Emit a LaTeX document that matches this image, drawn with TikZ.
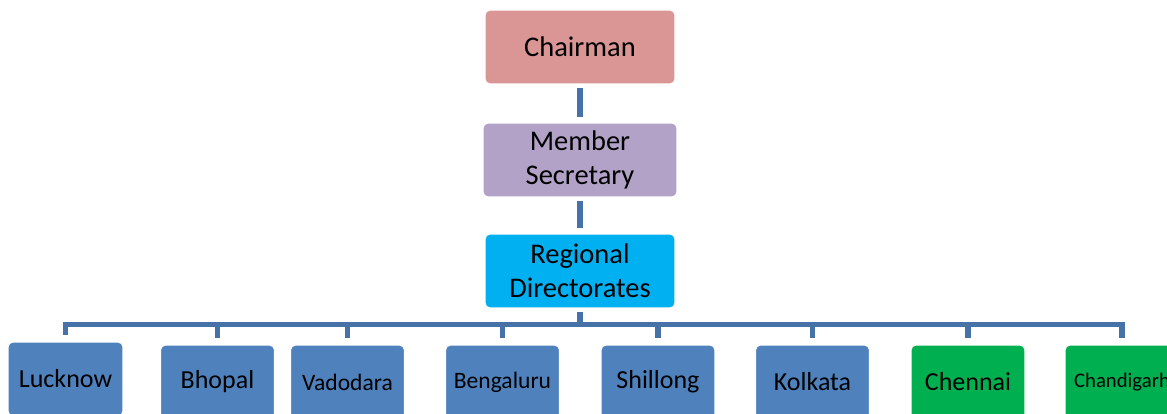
\documentclass[tikz,border=0pt]{standalone}
\usepackage{fontspec}
\setmainfont{Carlito}

\definecolor{chairred}{HTML}{D99694}
\definecolor{secviolet}{HTML}{B3A2C7}
\definecolor{dircyan}{HTML}{00B0F0}
\definecolor{cityblue}{HTML}{4F81BD}
\definecolor{citygreen}{HTML}{00B050}
\definecolor{linkblue}{HTML}{4672A8}

\tikzset{
  box/.style={draw=white, line width=0.6pt, rounded corners=0.1cm, align=center, text=black, inner sep=0pt},
  headbox/.style={box, minimum width=3.8cm, minimum height=1.48cm, font=\fontsize{16.2}{19.5}\selectfont},
  citybox/.style={box, fill=cityblue, minimum width=2.28cm, minimum height=1.48cm, font=\fontsize{14.8}{17}\selectfont},
  smalltext/.style={font=\fontsize{13.4}{16}\selectfont},
  link/.style={draw=linkblue, line width=3pt},
}

\begin{document}
\begin{tikzpicture}[x=0.02cm, y=-0.02cm]
    \useasboundingbox (0,0) rectangle (1167,413);
    \clip (0,0) rectangle (1167,413);

    % Head office
    \node[headbox, fill=chairred] (chair) at (580,47) {Chairman};
    \node[headbox, fill=secviolet, minimum width=3.88cm] (secy) at (580,160) {Member\\Secretary};
    \node[headbox, fill=dircyan] (dir) at (580,271) {Regional\\Directorates};

    % Regional offices
    \node[citybox, minimum width=2.3cm] (luck) at (65.5,379) {Lucknow};
    \node[citybox] (bhop) at (217.5,382) {Bhopal};
    \node[citybox, smalltext] (vado) at (347.5,382) {Vadodara};
    \node[citybox, smalltext] (beng) at (502.5,382) {Bengaluru};
    \node[citybox] (shil) at (658,382) {Shillong};
    \node[citybox] (kolk) at (812.5,382) {Kolkata};
    \node[citybox, fill=citygreen] (chen) at (968,382) {Chennai};
    \node[citybox, fill=citygreen, font=\fontsize{11.8}{14}\selectfont] (chan) at (1122,382) {Chandigarh};

    % Connectors
    \coordinate (bus) at (580,324.5);
    \draw[link, shorten <=0.06cm, shorten >=0.1cm] (chair) -- (secy);
    \draw[link, shorten <=0.06cm, shorten >=0.1cm] (secy) -- (dir);
    \draw[link, shorten <=0.06cm] (dir) -- (bus);
    \foreach \city in {luck,bhop,vado,beng,shil,kolk,chen,chan}
        \draw[link, shorten >=0.12cm] (bus) -| (\city.north);
\end{tikzpicture}
\end{document}
